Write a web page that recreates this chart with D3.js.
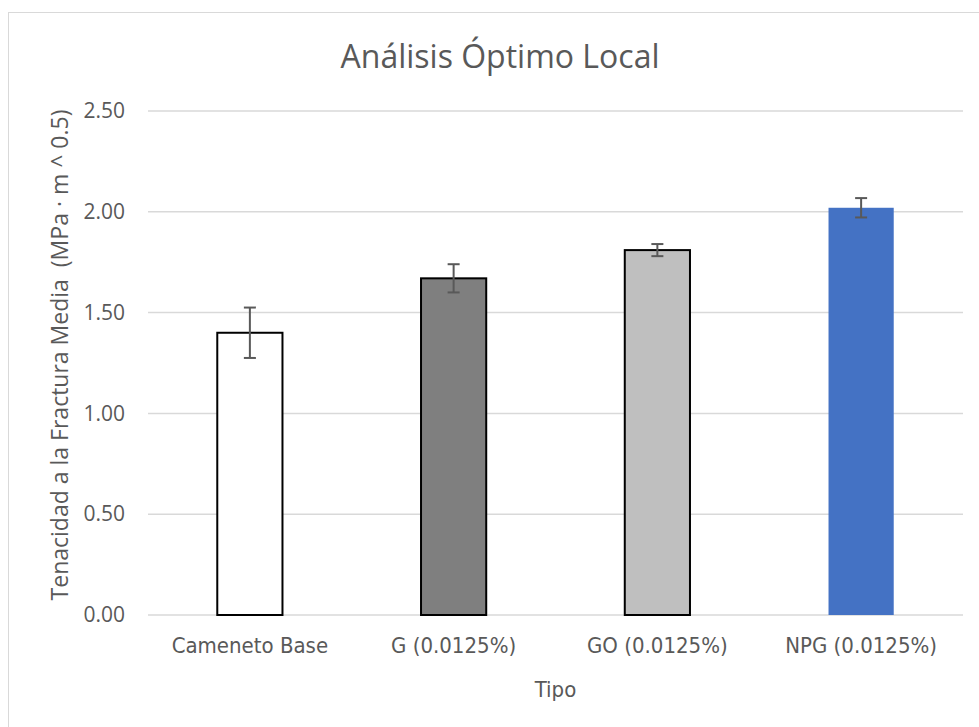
<!DOCTYPE html>
<html>
<head>
<meta charset="utf-8">
<script src="https://cdn.jsdelivr.net/npm/d3@7"></script>
<style>
body { margin:0; background:#fff; }
text { fill:#595959; }
</style>
</head>
<body>
<svg id="chart"></svg>
<script>
// categories and values
var tipos = ["Cameneto Base", "G (0.0125%)", "GO (0.0125%)", "NPG (0.0125%)"];
var medias = [1.40, 1.67, 1.81, 2.02];
var errores = [0.125, 0.07, 0.03, 0.048];
var rellenos = ["#ffffff", "#7f7f7f", "#bfbfbf", "#4472c4"];
var bordes = ["#000000", "#000000", "#000000", "none"];
var yTicks = [0, 0.5, 1.0, 1.5, 2.0, 2.5];

var screen = {width:979, height:727};
var margins = {left:148, right:16, top:111, bottom:112};

var graph = {
    width: screen.width - margins.left - margins.right,
    height: screen.height - margins.top - margins.bottom
};

var svg = d3.select("#chart")
    .attr("width", screen.width)
    .attr("height", screen.height);

// chart area border (only top and left fall inside the picture)
svg.append("rect")
    .attr("x", 8.5).attr("y", 12.5)
    .attr("width", 1000).attr("height", 1000)
    .attr("fill", "none")
    .attr("stroke", "#d9d9d9")
    .attr("stroke-width", 1);

var xScale = d3.scaleBand()
    .domain(tipos)
    .range([0, graph.width])
    .paddingInner(0.68)
    .paddingOuter(0.34);

var yScale = d3.scaleLinear()
    .domain([0, 2.5])
    .range([graph.height, 0]);

var target = svg.append("g")
    .attr("transform", "translate(" + margins.left + "," + margins.top + ")");

// gridlines
target.append("g")
    .selectAll("line")
    .data(yTicks)
    .enter()
    .append("line")
    .attr("x1", 0)
    .attr("x2", graph.width)
    .attr("y1", function(d){ return yScale(d); })
    .attr("y2", function(d){ return yScale(d); })
    .attr("stroke", "#d9d9d9")
    .attr("stroke-width", 1.5);

// y axis labels
var yAxis = d3.axisLeft(yScale)
    .tickValues(yTicks)
    .tickFormat(d3.format(".2f"))
    .tickSize(0)
    .tickPadding(23);

target.append("g")
    .call(yAxis)
    .call(function(g){ g.select(".domain").remove(); })
    .selectAll("text")
    .attr("font-family", "'Open Sans', sans-serif")
    .attr("font-size", "21px")
    .attr("fill", "#595959");

// bars
target.append("g")
    .selectAll("rect")
    .data(medias)
    .enter()
    .append("rect")
    .attr("x", function(d, i){ return xScale(tipos[i]); })
    .attr("y", function(d){ return yScale(d); })
    .attr("width", xScale.bandwidth())
    .attr("height", function(d){ return graph.height - yScale(d); })
    .attr("fill", function(d, i){ return rellenos[i]; })
    .attr("stroke", function(d, i){ return bordes[i]; })
    .attr("stroke-width", 2);

// error bars
var errs = target.append("g")
    .selectAll("g")
    .data(medias)
    .enter()
    .append("g")
    .attr("stroke", "#595959")
    .attr("stroke-width", 2);

var cx = function(i){ return xScale(tipos[i]) + xScale.bandwidth()/2; };

errs.append("line")
    .attr("x1", function(d, i){ return cx(i); })
    .attr("x2", function(d, i){ return cx(i); })
    .attr("y1", function(d, i){ return yScale(d + errores[i]); })
    .attr("y2", function(d, i){ return yScale(d - errores[i]); });

errs.append("line")
    .attr("x1", function(d, i){ return cx(i) - 6; })
    .attr("x2", function(d, i){ return cx(i) + 6; })
    .attr("y1", function(d, i){ return yScale(d + errores[i]); })
    .attr("y2", function(d, i){ return yScale(d + errores[i]); });

errs.append("line")
    .attr("x1", function(d, i){ return cx(i) - 6; })
    .attr("x2", function(d, i){ return cx(i) + 6; })
    .attr("y1", function(d, i){ return yScale(d - errores[i]); })
    .attr("y2", function(d, i){ return yScale(d - errores[i]); });

// x axis labels
var xAxis = d3.axisBottom(xScale)
    .tickSize(0)
    .tickPadding(22);

target.append("g")
    .attr("transform", "translate(0," + graph.height + ")")
    .call(xAxis)
    .call(function(g){ g.select(".domain").remove(); })
    .selectAll("text")
    .attr("font-family", "'Liberation Sans Narrow', 'DejaVu Sans Condensed', sans-serif")
    .attr("font-size", "22px")
    .attr("fill", "#595959");

// titles
var labels = svg.append("g");

labels.append("text")
    .text("Análisis Óptimo Local")
    .attr("text-anchor", "middle")
    .attr("x", 500)
    .attr("y", 68)
    .attr("font-family", "'Open Sans', sans-serif")
    .attr("font-size", "32px");

labels.append("text")
    .text("Tipo")
    .attr("text-anchor", "middle")
    .attr("x", margins.left + graph.width/2)
    .attr("y", 697)
    .attr("font-family", "'Liberation Sans Narrow', 'DejaVu Sans Condensed', sans-serif")
    .attr("font-size", "22px");

labels.append("text")
    .text("Tenacidad a la Fractura Media  (MPa · m ^ 0.5)")
    .attr("text-anchor", "middle")
    .attr("transform", "translate(68," + (margins.top + graph.height/2 - 8) + ") rotate(-90)")
    .attr("font-family", "'Open Sans', sans-serif")
    .attr("font-size", "23px")
    .attr("xml:space", "preserve");
</script>
</body>
</html>
